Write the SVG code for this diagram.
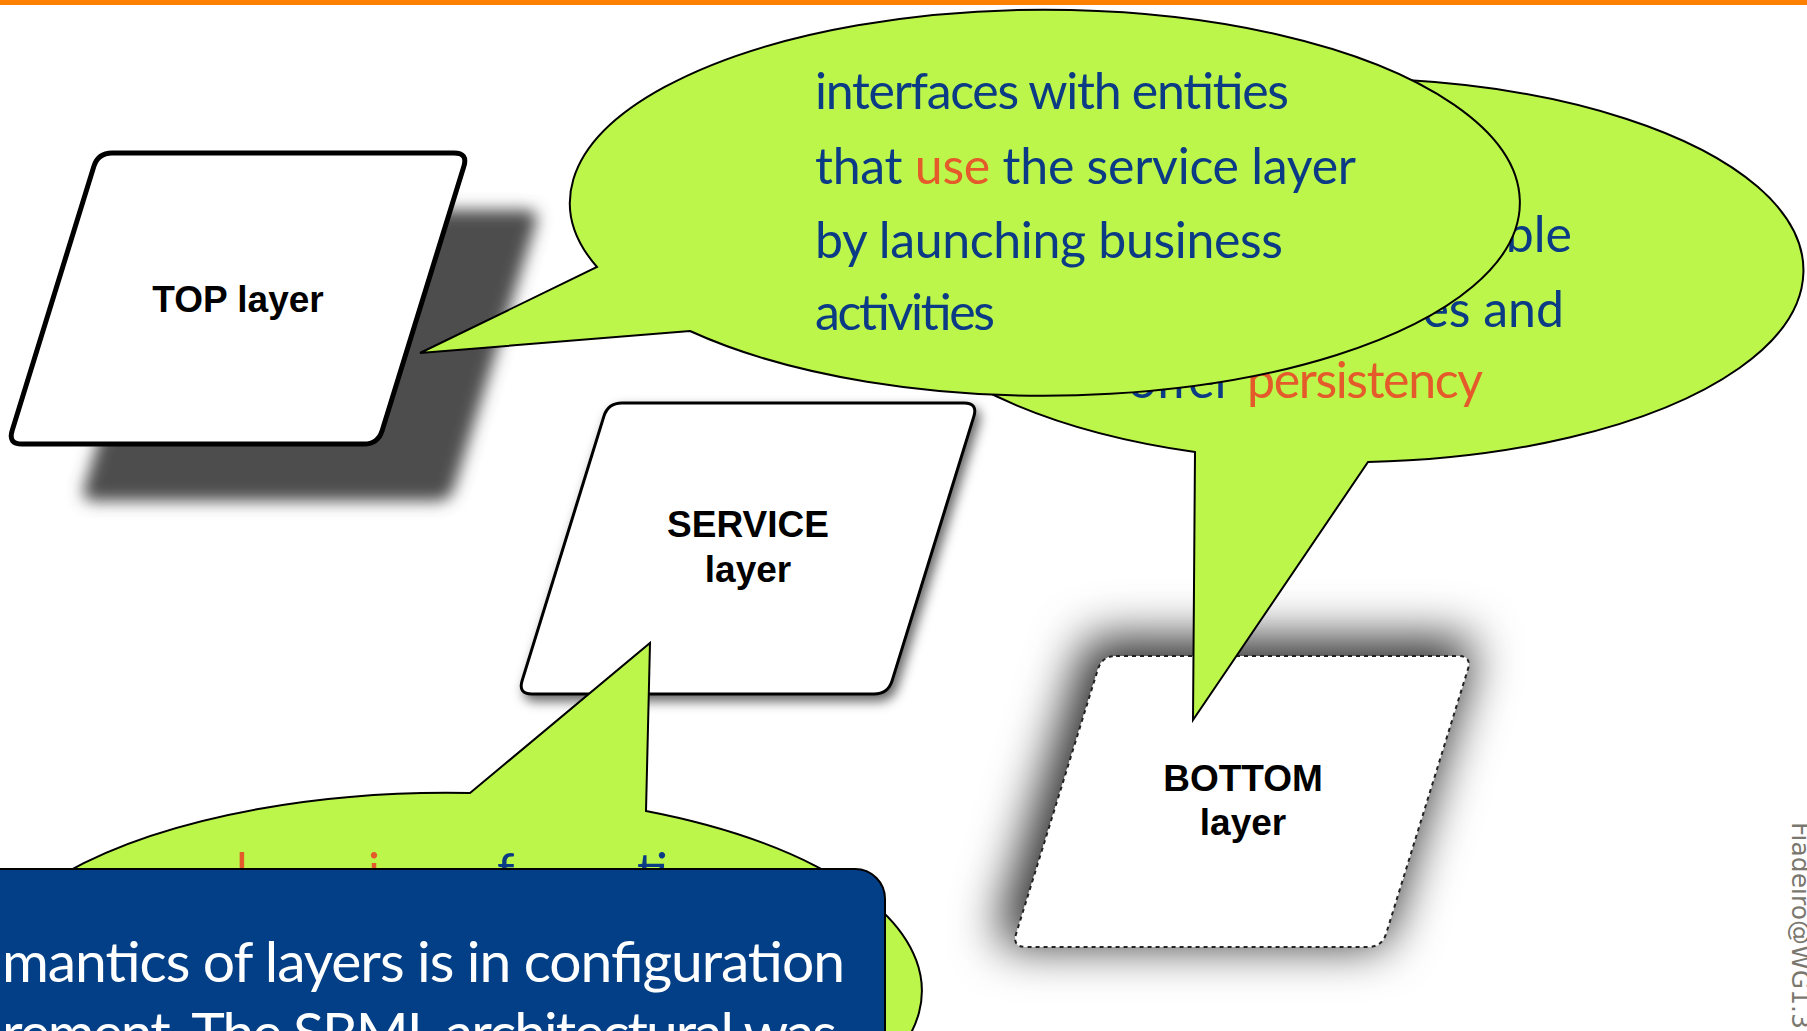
<svg xmlns="http://www.w3.org/2000/svg" xmlns:xlink="http://www.w3.org/1999/xlink" width="1807" height="1031" viewBox="0 0 1807 1031">
  <style>
    .lbl { font-family: "Liberation Sans", Arial, sans-serif; font-weight: bold; font-size: 37px; fill: #000; text-anchor: middle; }
    .bub { fill: #bdf64b; stroke: #000; stroke-width: 2; stroke-linejoin: miter; }
    .btxt { font-family: Lato, "Open Sans", sans-serif; font-size: 50px; fill: #0b3b85; }
    .hl { fill: #e55a2b; }
    .note { font-family: Lato, "Open Sans", sans-serif; font-size: 57px; fill: #ffffff; }
  </style>
  <defs>
    <path id="para" d="M 104 0 L 446 0 Q 460 0 455.86 13.37 L 374.14 277.63 Q 370 291 356 291 L 14 291 Q 0 291 4.14 277.63 L 85.86 13.37 Q 90 0 104 0 Z"/>
    <filter id="blurTop" x="-20%" y="-20%" width="140%" height="140%">
      <feGaussianBlur stdDeviation="8"/>
    </filter>
    <filter id="shService" x="-20%" y="-20%" width="140%" height="140%">
      <feDropShadow dx="4" dy="6" stdDeviation="6" flood-color="#000" flood-opacity="0.6"/>
    </filter>
    <filter id="shBottom" x="-50%" y="-50%" width="200%" height="200%">
      <feMorphology in="SourceAlpha" operator="dilate" radius="8" result="d"/>
      <feGaussianBlur in="d" stdDeviation="24" result="b"/>
      <feOffset in="b" dx="-6" dy="-10" result="o"/>
      <feFlood flood-color="#000" flood-opacity="0.8"/>
      <feComposite in2="o" operator="in" result="s"/>
      <feMerge>
        <feMergeNode in="s"/>
        <feMergeNode in="SourceGraphic"/>
      </feMerge>
    </filter>
  </defs>

  <rect x="0" y="0" width="1807" height="1031" fill="#ffffff"/>

  <g id="top-layer">
    <use xlink:href="#para" href="#para" transform="translate(80,210)" fill="#4d4d4d" filter="url(#blurTop)"/>
    <use xlink:href="#para" href="#para" transform="translate(8,153)" fill="#ffffff" stroke="#000" stroke-width="5"/>
    <text class="lbl" x="238" y="312">TOP layer</text>
  </g>

  <g id="service-layer">
    <use xlink:href="#para" href="#para" transform="translate(518,403)" fill="#ffffff" stroke="#000" stroke-width="3" filter="url(#shService)"/>
    <text class="lbl" x="748" y="537">SERVICE</text>
    <text class="lbl" x="748" y="582">layer</text>
  </g>

  <g id="bottom-layer">
    <use xlink:href="#para" href="#para" transform="translate(1012,656)" fill="#ffffff" stroke="#222" stroke-width="2" stroke-dasharray="4 4" filter="url(#shBottom)"/>
    <text class="lbl" x="1243" y="791">BOTTOM</text>
    <text class="lbl" x="1243" y="835">layer</text>
  </g>

  <g id="connectors">
    <g id="callout-bottom">
      <path class="bub" d="M 1195 452 L 1193 720 L 1368 462 A 460 192 0 1 0 1195 452 Z"/>
      <text class="btxt" x="1572" y="252" text-anchor="end">ble</text>
      <text class="btxt" x="1564" y="327" text-anchor="end">es and</text>
      <text class="btxt" x="1128" y="398">offer</text>
      <text class="btxt hl" x="1247" y="398" textLength="236">persistency</text>
    </g>

    <g id="callout-top">
      <path class="bub" d="M 690 331 A 475 193 0 1 0 597 267 L 420 353 Z"/>
      <text class="btxt" x="815" y="109" textLength="474">interfaces with entities</text>
      <text class="btxt" x="815" y="184" textLength="541">that <tspan class="hl">use</tspan> the service layer</text>
      <text class="btxt" x="815" y="258" textLength="468">by launching business</text>
      <text class="btxt" x="815" y="330" textLength="180">activities</text>
    </g>

    <g id="callout-service">
      <path class="bub" d="M 470 793 L 650 643 L 646 811 A 475 198 0 1 1 470 793 Z"/>
      <text class="btxt" y="889"><tspan class="hl" x="236">l</tspan><tspan class="hl" x="368">i</tspan><tspan x="497">f</tspan><tspan x="637">ti</tspan></text>
    </g>
  </g>

  <g id="note">
    <rect x="-40" y="869" width="925" height="260" rx="30" ry="30" fill="#033f86" stroke="#000" stroke-width="2"/>
    <text class="note" x="2" y="982" textLength="843">mantics of layers is in configuration</text>
    <text class="note" x="2" y="1053" textLength="835">rement. The SRML architectural was</text>
  </g>

  <g id="footer">
    <text x="1792" y="822" transform="rotate(90 1792 822)" font-family="DejaVu Sans, Verdana, sans-serif" font-size="25" fill="#7a776f">Fiadeiro@WG1.3</text>
  </g>

  <rect id="topbar" x="0" y="0" width="1807" height="5" fill="#ff7f00"/>
</svg>
